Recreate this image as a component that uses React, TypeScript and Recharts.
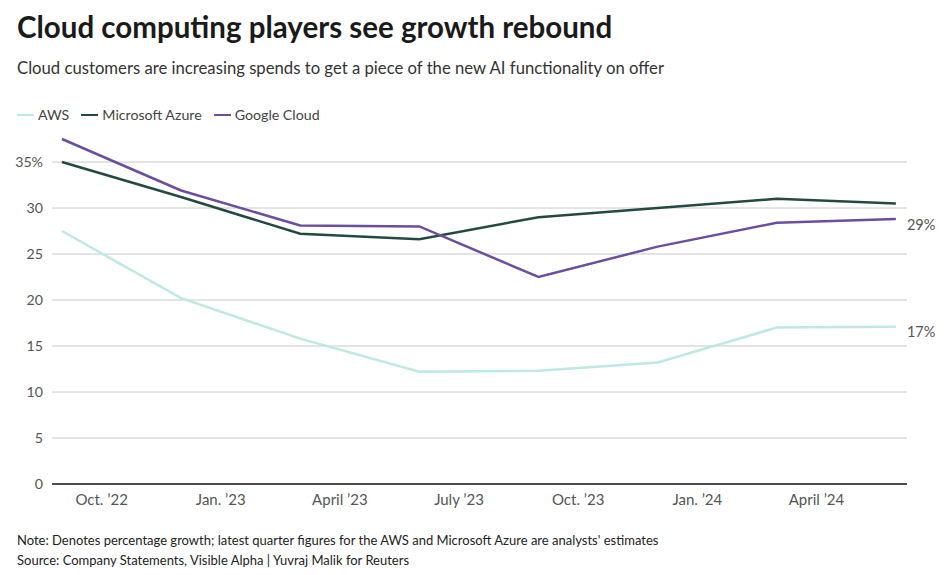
import React from "react";
import { LineChart, Line, XAxis, YAxis, ReferenceLine } from "recharts";

const months = [8, 11, 14, 17, 20, 23, 26, 29];
const aws = [27.5, 20.2, 15.8, 12.2, 12.3, 13.2, 17.0, 17.1];
const azure = [35.0, 31.2, 27.2, 26.6, 29.0, 30.0, 31.0, 30.5];
const google = [37.5, 31.9, 28.1, 28.0, 22.5, 25.8, 28.4, 28.8];
const tickMonths = [9, 12, 15, 18, 21, 24, 27];
const tickLabels = ["Oct. ’22", "Jan. ’23", "April ’23", "July ’23", "Oct. ’23", "Jan. ’24", "April ’24"];
const yTicks = [0, 5, 10, 15, 20, 25, 30, 35];
const endLabels = { aws: "17%", google: "29%" };

const data = months.map((m, i) => ({ m, aws: aws[i], azure: azure[i], google: google[i] }));

const FONT = "Lato, 'Noto Sans', sans-serif";
const COLORS = { aws: "#bde8e4", azure: "#234a42", google: "#6c4ea0" };

const makeEndLabel = (text: string) => (props: any) => {
  const { x, y, index } = props;
  if (index !== data.length - 1) return null;
  return (
    <text x={x + 11} y={y + 5} dominantBaseline="central" fontSize={14.5} fill="#555" fontFamily={FONT}>
      {text}
    </text>
  );
};

const legendItems = [
  { key: "aws", label: "AWS" },
  { key: "azure", label: "Microsoft Azure" },
  { key: "google", label: "Google Cloud" },
];

const LegendBlock = () => (
  <div style={{ position: "absolute", left: 17, top: 106, display: "flex", alignItems: "center", fontFamily: FONT, fontSize: 14.2, color: "#444", whiteSpace: "nowrap" }}>
    {legendItems.map((it) => (
      <div key={it.key} style={{ display: "flex", alignItems: "center", marginRight: 12 }}>
        <span style={{ display: "inline-block", width: 17, height: 2, background: (COLORS as any)[it.key], marginRight: 4 }} />
        <span>{it.label}</span>
      </div>
    ))}
  </div>
);

export default function App() {
  return (
    <div style={{ position: "absolute", left: 0, top: 0, width: 945, height: 575, background: "#fff", fontFamily: FONT }}>
      <div style={{ position: "absolute", left: 17, top: 9, fontSize: 29.5, fontWeight: 700, color: "#1a1a1a", whiteSpace: "nowrap" }}>
        Cloud computing players see growth rebound
      </div>
      <div style={{ position: "absolute", left: 17, top: 58, fontSize: 16.7, color: "#333", whiteSpace: "nowrap" }}>
        Cloud customers are increasing spends to get a piece of the new AI functionality on offer
      </div>
      <LegendBlock />
      <div style={{ position: "absolute", left: 17, top: 532, fontSize: 13, color: "#222", whiteSpace: "nowrap" }}>
        Note: Denotes percentage growth; latest quarter figures for the AWS and Microsoft Azure are analysts' estimates
      </div>
      <div style={{ position: "absolute", left: 17, top: 552, fontSize: 13, color: "#222", whiteSpace: "nowrap" }}>
        Source: Company Statements, Visible Alpha | Yuvraj Malik for Reuters
      </div>
      <div style={{ position: "absolute", left: 0, top: 0 }}>
        <LineChart width={945} height={575} data={data} margin={{ top: 116, right: 38, bottom: 61, left: 0 }}>
          {yTicks.slice(1).map((t) => (
            <ReferenceLine key={t} y={t} stroke="#c8c8c8" strokeWidth={1} />
          ))}
          <XAxis
            dataKey="m"
            type="number"
            domain={[7.75, 29.28]}
            ticks={tickMonths}
            tickFormatter={(v: number) => tickLabels[tickMonths.indexOf(v)] ?? ""}
            allowDataOverflow
            axisLine={{ stroke: "#111", strokeWidth: 1.5 }}
            tickLine={false}
            tickSize={0}
            tickMargin={10}
            height={30}
            tick={{ fontSize: 15, fill: "#555", fontFamily: FONT }}
          />
          <YAxis
            domain={[0, 40]}
            ticks={yTicks}
            tickFormatter={(v: number) => (v === 35 ? "35%" : String(v))}
            axisLine={false}
            tickLine={false}
            tickSize={0}
            tickMargin={9}
            width={52}
            allowDataOverflow
            tick={{ fontSize: 14.2, fill: "#555", fontFamily: FONT }}
          />
          <Line dataKey="aws" name="AWS" stroke={COLORS.aws} strokeWidth={2.5} dot={false} isAnimationActive={false} type="linear" label={makeEndLabel(endLabels.aws)} />
          <Line dataKey="azure" name="Microsoft Azure" stroke={COLORS.azure} strokeWidth={2.5} dot={false} isAnimationActive={false} type="linear" />
          <Line dataKey="google" name="Google Cloud" stroke={COLORS.google} strokeWidth={2.5} dot={false} isAnimationActive={false} type="linear" label={makeEndLabel(endLabels.google)} />
        </LineChart>
      </div>
    </div>
  );
}
